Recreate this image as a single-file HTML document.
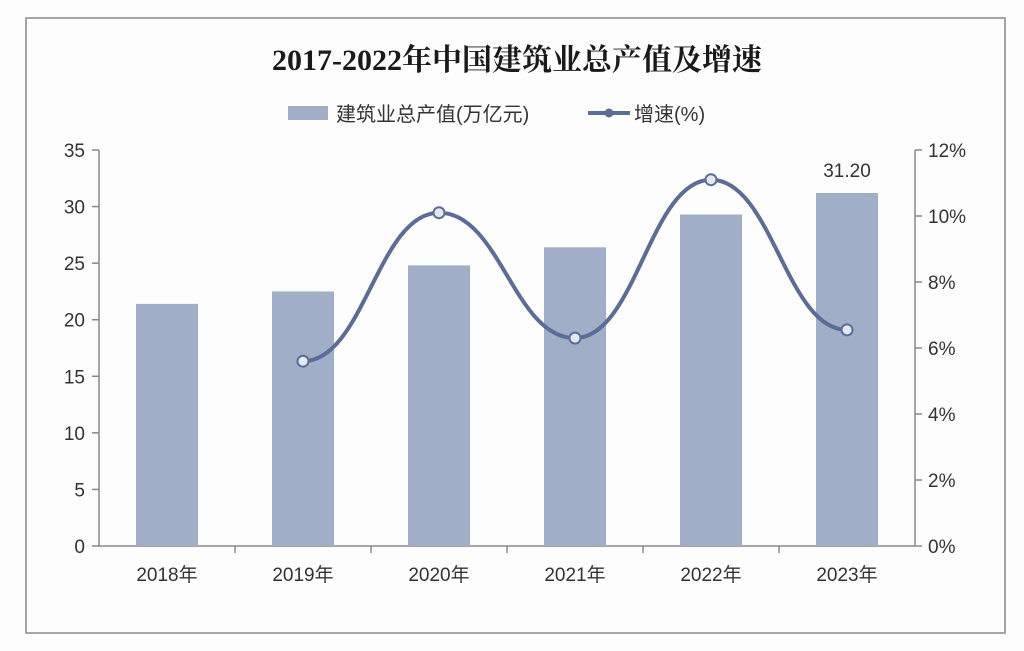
<!DOCTYPE html>
<html><head><meta charset="utf-8"><style>
body{margin:0;background:#fdfdfd;}
svg{display:block;font-family:"Liberation Sans","Noto Sans CJK SC",sans-serif;}
</style></head><body>
<svg id="c" width="1024" height="651" xmlns="http://www.w3.org/2000/svg">
<rect x="26" y="18" width="979" height="615" fill="#fdfdfd" stroke="#8a8a8a" stroke-width="1.5"/>
<text x="517" y="70" text-anchor="middle" font-size="30" font-weight="bold" font-family="Liberation Serif, Noto Serif CJK SC, serif" fill="#1a1a1a">2017-2022年中国建筑业总产值及增速</text>
<g>
<rect x="288" y="106" width="40" height="14" fill="#a0aec8"/>
<text x="336" y="121" font-size="20" fill="#333">建筑业总产值(万亿元)</text>
<line x1="588" y1="113" x2="630" y2="113" stroke="#5a6d99" stroke-width="4"/>
<circle cx="609" cy="113" r="4.5" fill="#5a6d99"/>
<text x="634" y="121" font-size="20" fill="#333">增速(%)</text>
</g>
<g id="axes"></g>
<g id="bars"></g>
<g id="line"></g>
</svg>
<script>
const categories=["2018年","2019年","2020年","2021年","2022年","2023年"];
const outputValues=[21.4,22.5,24.8,26.4,29.3,31.2];
const growthYears=["2019年","2020年","2021年","2022年","2023年"];
const growthValues=[5.6,10.1,6.3,11.1,6.55];
const leftTicks=[0,5,10,15,20,25,30,35];
const rightTicks=[0,2,4,6,8,10,12];
const NS="http://www.w3.org/2000/svg";
const X0=99,X1=925,Y0=546,Y1=150;
const yL=v=>Y0-(v/35)*(Y0-Y1);
const yR=v=>Y0-(v/12)*(Y0-Y1);
function mk(tag,attrs,parent){const e=document.createElementNS(NS,tag);for(const k in attrs)e.setAttribute(k,attrs[k]);parent.appendChild(e);return e;}
const ax=document.getElementById('axes');
let e;
e=mk('line',{x1:X0,y1:Y1,x2:X0,y2:Y0,stroke:'#888','stroke-width':1.5},ax);


e=mk('line',{x1:915,y1:Y1,x2:915,y2:Y0,stroke:'#888','stroke-width':1.5},ax);


e=mk('line',{x1:X0,y1:Y0,x2:915,y2:Y0,stroke:'#888','stroke-width':1.5},ax);


leftTicks.forEach(v=>{
  mk('line',{x1:X0-7,y1:yL(v),x2:X0,y2:yL(v),stroke:'#888','stroke-width':1.5},ax);
  e=mk('text',{x:X0-14,y:yL(v)+7,'text-anchor':'end','font-size':19,fill:'#333'},ax);
  e.textContent=v;
  
  
});
rightTicks.forEach(v=>{
  mk('line',{x1:915,y1:yR(v),x2:922,y2:yR(v),stroke:'#888','stroke-width':1.5},ax);
  e=mk('text',{x:928,y:yR(v)+7,'font-size':19,fill:'#333'},ax);
  e.textContent=v+'%';
  
  
});
const bandT=(915-X0)/categories.length;
const xcb=i=>X0+bandT*(i+0.5);
categories.forEach((c,i)=>{
  if(i>0)mk('line',{x1:X0+bandT*i,y1:Y0,x2:X0+bandT*i,y2:Y0+7,stroke:'#888','stroke-width':1.5},ax);
  e=mk('text',{x:xcb(i),y:Y0+35,'text-anchor':'middle','font-size':19,fill:'#333'},ax);
  e.textContent=c;
  
  
});
const bg=document.getElementById('bars');
outputValues.forEach((v,i)=>{
  e=mk('rect',{x:xcb(i)-31,y:yL(v),width:62,height:Y0-yL(v),fill:'#a0aec8'},bg);
  
  
});
const li=outputValues.length-1;
e=mk('text',{x:xcb(li),y:yL(outputValues[li])-16,'text-anchor':'middle','font-size':19,fill:'#333'},bg);
e.textContent=outputValues[li].toFixed(2);


const lg=document.getElementById('line');
const pts=growthYears.map((y,i)=>[xcb(categories.indexOf(y)),yR(growthValues[i])]);
let d='M'+pts[0][0]+','+pts[0][1];
for(let i=0;i<pts.length-1;i++){
  const [x0,y0]=pts[i],[x1,y1]=pts[i+1];const dx=(x1-x0)*0.45;
  d+=` C${x0+dx},${y0} ${x1-dx},${y1} ${x1},${y1}`;
}
e=mk('path',{d:d,fill:'none',stroke:'#5a6d99','stroke-width':4},lg);


pts.forEach((p,i)=>{
  e=mk('circle',{cx:p[0],cy:p[1],r:5.5,fill:'#e4e8f1',stroke:'#5a6d99','stroke-width':2},lg);
  
  
});
</script>
</body></html>
